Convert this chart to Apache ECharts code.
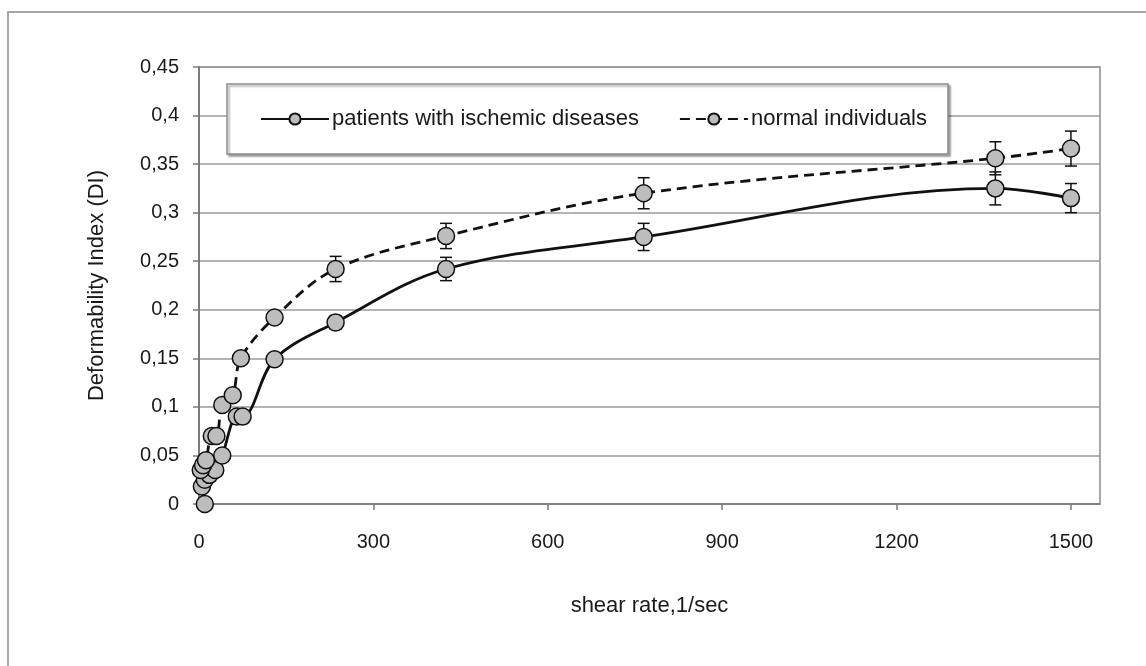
<!DOCTYPE html>
<html>
<head>
<meta charset="utf-8">
<script src="https://cdn.jsdelivr.net/npm/echarts@6/dist/echarts.min.js"></script>
<style>
  html, body { margin: 0; padding: 0; background: #fff; }
  #chart { width: 1146px; height: 666px; }
</style>
</head>
<body>
<div id="chart"></div>
<script>
// shear rate (1/sec) and DI values
var patientsX = [10, 5, 10, 18, 28, 40, 65, 75, 130, 235, 425, 765, 1370, 1500];
var patientsY = [0, 0.018, 0.025, 0.03, 0.035, 0.05, 0.09, 0.09, 0.149, 0.187, 0.242, 0.275, 0.325, 0.315];
var patientsErr = [0, 0, 0, 0, 0, 0, 0, 0, 0.004, 0.007, 0.012, 0.014, 0.017, 0.015];

var normalX = [3, 7, 12, 22, 30, 40, 58, 72, 130, 235, 425, 765, 1370, 1500];
var normalY = [0.035, 0.04, 0.045, 0.07, 0.07, 0.102, 0.112, 0.15, 0.192, 0.242, 0.276, 0.32, 0.356, 0.366];
var normalErr = [0, 0, 0, 0, 0, 0, 0, 0, 0.004, 0.013, 0.013, 0.016, 0.017, 0.018];

var xTicks = [0, 300, 600, 900, 1200, 1500];
var seriesNames = ['patients with ischemic diseases', 'normal individuals'];

var FONT = "'Liberation Sans', Arial, sans-serif";

function pairs(xs, ys, es) {
  return xs.map(function(x, i) {
    return es ? [x, ys[i], es[i]] : [x, ys[i]];
  });
}

// I-shaped error bars
function errorBars(params, api) {
  var x = api.value(0), y = api.value(1), e = api.value(2);
  if (!e) return null;
  var top = api.coord([x, y + e]);
  var bot = api.coord([x, y - e]);
  var hw = 6;
  var st = { stroke: '#111', lineWidth: 1.5 };
  return {
    type: 'group',
    children: [
      { type: 'line', shape: { x1: top[0], y1: top[1], x2: bot[0], y2: bot[1] }, style: st },
      { type: 'line', shape: { x1: top[0] - hw, y1: top[1], x2: top[0] + hw, y2: top[1] }, style: st },
      { type: 'line', shape: { x1: bot[0] - hw, y1: bot[1], x2: bot[0] + hw, y2: bot[1] }, style: st }
    ]
  };
}

var chart = echarts.init(document.getElementById('chart'));

var markerStyle = { color: '#bdbdbd', borderColor: '#111', borderWidth: 1.5 };

chart.setOption({
  animation: false,
  backgroundColor: '#fff',
  textStyle: { fontFamily: FONT },
  graphic: [{
    type: 'rect',
    shape: { x: 8, y: 12, width: 1200, height: 700 },
    style: { fill: 'none', stroke: '#8a8a8a', lineWidth: 1.5 },
    silent: true
  }],
  grid: {
    left: 199, top: 67, right: 46, bottom: 162,
    show: true, borderColor: '#8c8c8c', borderWidth: 1.5, backgroundColor: 'transparent'
  },
  legend: {
    data: seriesNames,
    left: 227, top: 84,
    padding: [24, 21, 24, 33],
    itemGap: 40,
    itemWidth: 68, itemHeight: 14,
    backgroundColor: '#fff',
    borderColor: '#8c8c8c', borderWidth: 1.5,
    shadowColor: 'rgba(0,0,0,0.35)', shadowBlur: 2, shadowOffsetX: 2, shadowOffsetY: 2,
    textStyle: { fontSize: 22, color: '#1a1a1a', fontFamily: FONT, padding: [0, 0, 0, -2] }
  },
  xAxis: {
    type: 'value',
    min: 0, max: 1550, interval: 300,
    name: 'shear rate,1/sec',
    nameLocation: 'middle',
    nameGap: 91,
    nameTextStyle: { fontSize: 22, color: '#1a1a1a', fontFamily: FONT },
    axisLine: { show: true, lineStyle: { color: '#7a7a7a', width: 1.5 } },
    axisTick: { show: true, length: 6, customValues: xTicks, lineStyle: { color: '#7a7a7a', width: 1.5 } },
    axisLabel: {
      customValues: xTicks, fontSize: 20, color: '#1a1a1a', margin: 28, fontFamily: FONT,
      formatter: function(v) { return String(v); }
    },
    splitLine: { show: false }
  },
  yAxis: {
    type: 'value',
    min: 0, max: 0.45, interval: 0.05,
    name: 'Deformability Index (DI)',
    nameLocation: 'middle',
    nameGap: 91,
    nameTextStyle: { fontSize: 22, color: '#1a1a1a', fontFamily: FONT },
    axisLine: { show: true, lineStyle: { color: '#6e6e6e', width: 1.5 } },
    axisTick: { show: true, length: 6, lineStyle: { color: '#7a7a7a', width: 1.5 } },
    axisLabel: {
      fontSize: 20, color: '#1a1a1a', margin: 20, fontFamily: FONT,
      formatter: function(v) { return String(+v.toFixed(2)).replace('.', ','); }
    },
    splitLine: { show: true, lineStyle: { color: '#9a9a9a', width: 1.5 } }
  },
  series: [
    {
      name: seriesNames[0],
      type: 'line',
      data: pairs(patientsX, patientsY),
      smooth: 0.35,
      symbol: 'circle', symbolSize: 17,
      lineStyle: { color: '#111', width: 2.8, type: 'solid' },
      itemStyle: markerStyle,
      z: 3
    },
    {
      name: seriesNames[1],
      type: 'line',
      data: pairs(normalX, normalY),
      smooth: 0.35,
      symbol: 'circle', symbolSize: 17,
      lineStyle: { color: '#111', width: 2.8, type: [10, 6] },
      itemStyle: markerStyle,
      z: 3
    },
    {
      type: 'custom',
      data: pairs(patientsX, patientsY, patientsErr),
      renderItem: errorBars,
      z: 2, silent: true
    },
    {
      type: 'custom',
      data: pairs(normalX, normalY, normalErr),
      renderItem: errorBars,
      z: 2, silent: true
    }
  ]
});
</script>
</body>
</html>
